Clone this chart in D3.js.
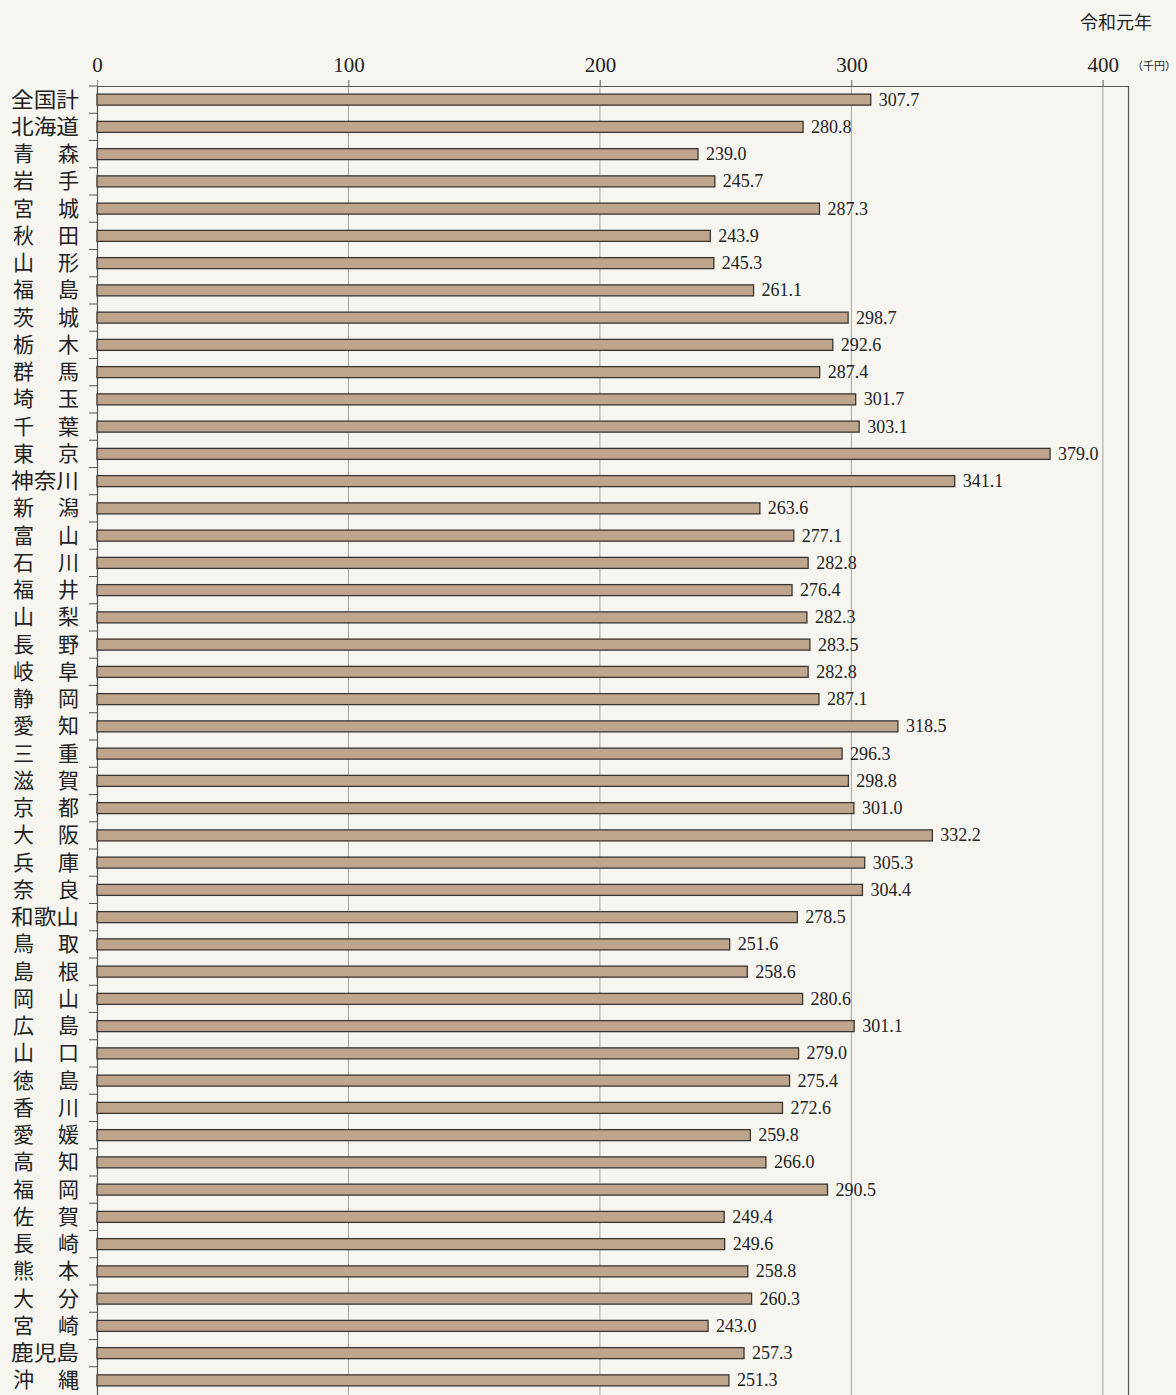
<!DOCTYPE html>
<html><head><meta charset="utf-8">
<script src="https://cdn.jsdelivr.net/npm/d3@7"></script>
<style>
html,body{margin:0;padding:0;background:#f6f5f0;}
svg{display:block;}
</style></head>
<body>
<svg id="chart" width="1176" height="1395"></svg>
<script>
const categories = ["全国計","北海道","青森","岩手","宮城","秋田","山形","福島","茨城","栃木","群馬","埼玉","千葉","東京","神奈川","新潟","富山","石川","福井","山梨","長野","岐阜","静岡","愛知","三重","滋賀","京都","大阪","兵庫","奈良","和歌山","鳥取","島根","岡山","広島","山口","徳島","香川","愛媛","高知","福岡","佐賀","長崎","熊本","大分","宮崎","鹿児島","沖縄"];
const values = [307.7,280.8,239.0,245.7,287.3,243.9,245.3,261.1,298.7,292.6,287.4,301.7,303.1,379.0,341.1,263.6,277.1,282.8,276.4,282.3,283.5,282.8,287.1,318.5,296.3,298.8,301.0,332.2,305.3,304.4,278.5,251.6,258.6,280.6,301.1,279.0,275.4,272.6,259.8,266.0,290.5,249.4,249.6,258.8,260.3,243.0,257.3,251.3];
const tickValues = [0,100,200,300,400];
const title = "令和元年";
const unit = "（千円）";

const svg = d3.select("#chart");
const x = d3.scaleLinear().domain([0,410]).range([97,1128]);
const band = d3.scaleBand().domain(categories).range([86,1394]);

// gridlines
svg.append("g").selectAll("line").data(tickValues.slice(1)).join("line")
  .attr("x1",d=>x(d)).attr("x2",d=>x(d)).attr("y1",80).attr("y2",1395)
  .attr("stroke","#9a9a9a").attr("stroke-width",0.9);

// frame: top line, right border
svg.append("line").attr("x1",x(0)).attr("x2",x(410)).attr("y1",86.5).attr("y2",86.5).attr("stroke","#555").attr("stroke-width",1.2);
svg.append("line").attr("x1",1128.5).attr("x2",1128.5).attr("y1",86).attr("y2",1395).attr("stroke","#555").attr("stroke-width",1.2);

// top axis
const xAxis = d3.axisTop(x).tickValues(tickValues).tickSize(6).tickPadding(8);
const gx = svg.append("g").attr("transform","translate(0,86)").call(xAxis);
gx.select(".domain").remove();
gx.selectAll(".tick line").attr("stroke","#888");
gx.selectAll(".tick text").attr("font-family","'Liberation Serif','DejaVu Serif',serif").attr("font-size",21).attr("fill","#222");

// left axis with boundary ticks
svg.append("line").attr("x1",97.5).attr("x2",97.5).attr("y1",86).attr("y2",1395).attr("stroke","#555").attr("stroke-width",1.2);
svg.append("g").selectAll("line").data(categories).join("line")
  .attr("x1",89).attr("x2",97).attr("y1",d=>band(d)).attr("y2",d=>band(d))
  .attr("stroke","#555").attr("stroke-width",1);

// bars
const data = categories.map((c,i)=>({c,v:values[i]}));
svg.append("g").selectAll("rect").data(data).join("rect")
  .attr("x",x(0)).attr("y",d=>band(d.c)+band.bandwidth()/2-5.5)
  .attr("width",d=>x(d.v)-x(0)).attr("height",11)
  .attr("fill","#c0a58d").attr("stroke","#3a3632").attr("stroke-width",1.3);

// value labels
svg.append("g").selectAll("text").data(data).join("text")
  .attr("x",d=>x(d.v)+8).attr("y",d=>band(d.c)+band.bandwidth()/2+6)
  .attr("font-family","'Liberation Serif','DejaVu Serif',serif").attr("font-size",18)
  .attr("fill","#222").text(d=>d.v.toFixed(1));

// category labels
const lab = svg.append("g").attr("font-family","'Noto Sans CJK JP',sans-serif").attr("font-size",21).attr("fill","#222");
data.forEach(d=>{
  const cy = band(d.c)+band.bandwidth()/2+7;
  if(d.c.length===2){
    lab.append("text").attr("x",13).attr("y",cy).text(d.c[0]);
    lab.append("text").attr("x",79).attr("y",cy).attr("text-anchor","end").text(d.c[1]);
  } else {
    lab.append("text").attr("x",79).attr("y",cy).attr("text-anchor","end").attr("textLength",68).attr("lengthAdjust","spacingAndGlyphs").text(d.c);
  }
});

// title and unit
svg.append("text").attr("x",1152).attr("y",29).attr("text-anchor","end")
  .attr("font-family","'Noto Sans CJK JP',sans-serif").attr("font-size",18).attr("fill","#222").text(title);
svg.append("text").attr("x",1176).attr("y",70).attr("text-anchor","end")
  .attr("font-family","'Noto Sans CJK JP',sans-serif").attr("font-size",11).attr("fill","#222").text(unit);
</script>
</body></html>
